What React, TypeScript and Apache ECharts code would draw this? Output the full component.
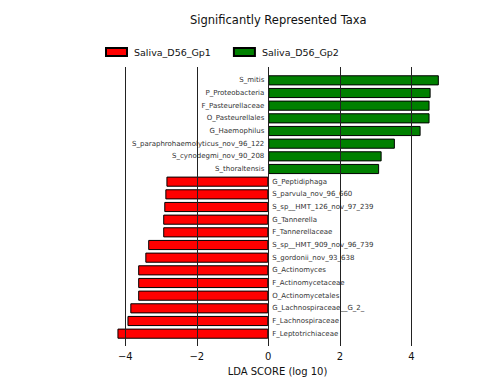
import React, { useEffect, useRef } from "react";
import * as echarts from "echarts";

const gp2Taxa = [
  "S_mitis",
  "P_Proteobacteria",
  "F_Pasteurellaceae",
  "O_Pasteurellales",
  "G_Haemophilus",
  "S_paraphrohaemolyticus_nov_96_122",
  "S_cynodegmi_nov_90_208",
  "S_thoraltensis",
];
const gp2Scores = [4.77, 4.54, 4.51, 4.51, 4.26, 3.54, 3.17, 3.1];

const gp1Taxa = [
  "G_Peptidiphaga",
  "S_parvula_nov_96_660",
  "S_sp__HMT_126_nov_97_239",
  "G_Tannerella",
  "F_Tannerellaceae",
  "S_sp__HMT_909_nov_96_739",
  "S_gordonii_nov_93_638",
  "G_Actinomyces",
  "F_Actinomycetaceae",
  "O_Actinomycetales",
  "G_Lachnospiraceae__G_2_",
  "F_Lachnospiraceae",
  "F_Leptotrichiaceae",
];
const gp1Scores = [
  -2.85, -2.88, -2.91, -2.94, -2.94, -3.36, -3.44, -3.64, -3.64, -3.64, -3.86,
  -3.94, -4.22,
];

const tickValues = [-4, -2, 0, 2, 4];
const groupNames = ["Saliva_D56_Gp1", "Saliva_D56_Gp2"];

const FONT = "DejaVu Sans";
const X_MIN = -4.708;
const X_MAX = 5.222;

export default function App() {
  const ref = useRef<HTMLDivElement>(null);
  useEffect(() => {
    if (!ref.current) return;
    const chart = echarts.init(ref.current, undefined, { renderer: "svg" });
    const categories = [...gp2Taxa, ...gp1Taxa];
    const gp2Data = [...gp2Scores, ...gp1Taxa.map(() => "-")];
    const gp1Data = [...gp2Taxa.map(() => "-"), ...gp1Scores];
    chart.setOption({
      animation: false,
      textStyle: { fontFamily: FONT },
      title: {
        text: "Significantly Represented Taxa",
        left: 185,
        top: 9,
        textStyle: { fontFamily: FONT, fontSize: 11.5, fontWeight: "normal", color: "#111" },
      },
      legend: {
        left: 100,
        top: 42,
        itemWidth: 21,
        itemHeight: 8,
        itemGap: 22,
        icon: "rect",
        data: groupNames,
        textStyle: { fontFamily: FONT, fontSize: 9.5, color: "#111", padding: [0, 0, 0, 2] },
      },
      grid: [
        { left: 100, width: 355, top: 74, height: 266 },
        { left: 100, width: 355, top: 67, height: 275 },
      ],
      xAxis: [
        { type: "value", gridIndex: 0, min: X_MIN, max: X_MAX, show: false },
        {
          type: "value",
          gridIndex: 1,
          min: X_MIN,
          max: X_MAX,
          z: 10,
          axisLine: { show: false },
          axisTick: { show: true, length: 4, customValues: tickValues, lineStyle: { color: "#222" } },
          axisLabel: {
            customValues: tickValues,
            fontSize: 10,
            color: "#111",
            margin: 9,
            fontFamily: FONT,
            formatter: (v: number) => (v < 0 ? "\u2212" + Math.abs(v) : String(v)),
          },
          splitLine: { show: true, lineStyle: { color: "#222", width: 1 } },
          name: "LDA SCORE (log 10)",
          nameLocation: "middle",
          nameGap: 24,
          nameTextStyle: { fontSize: 10, color: "#111", fontFamily: FONT },
        },
      ],
      yAxis: [
        { type: "category", gridIndex: 0, data: categories, inverse: true, show: false },
        { type: "value", gridIndex: 1, show: false },
      ],
      series: [
        {
          name: groupNames[0],
          type: "bar",
          xAxisIndex: 0,
          yAxisIndex: 0,
          data: gp1Data,
          barWidth: "80%",
          barGap: "-100%",
          itemStyle: { color: "#ff0000", borderColor: "#000", borderWidth: 1 },
          label: {
            show: true,
            position: "right",
            distance: 4,
            formatter: "{b}",
            fontSize: 7,
            color: "#333",
            fontFamily: FONT,
          },
        },
        {
          name: groupNames[1],
          type: "bar",
          xAxisIndex: 0,
          yAxisIndex: 0,
          data: gp2Data,
          barWidth: "80%",
          barGap: "-100%",
          itemStyle: { color: "#008000", borderColor: "#000", borderWidth: 1 },
          label: {
            show: true,
            position: "left",
            distance: 4,
            formatter: "{b}",
            fontSize: 7,
            color: "#333",
            fontFamily: FONT,
          },
        },
      ],
    });
    return () => chart.dispose();
  }, []);
  return (
    <div
      ref={ref}
      style={{ position: "absolute", left: 0, top: 0, width: 504, height: 392 }}
    />
  );
}
